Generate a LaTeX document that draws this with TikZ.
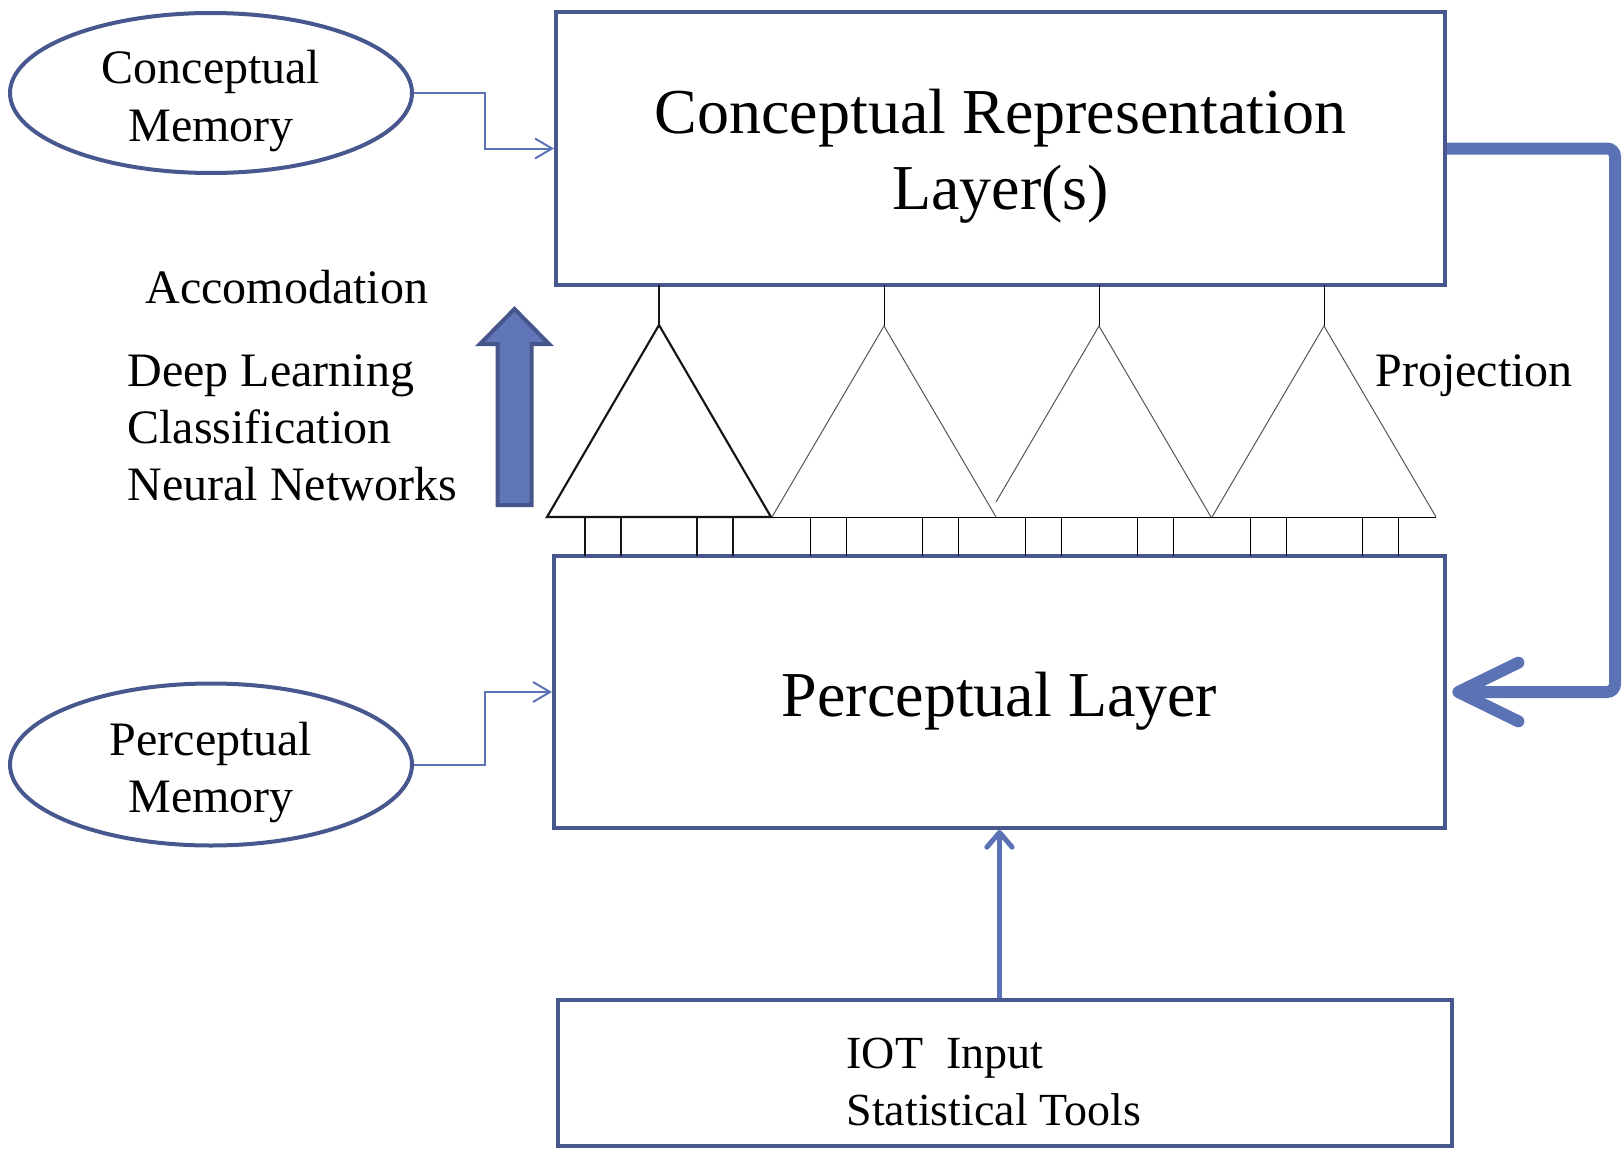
\documentclass[tikz,border=0pt]{standalone}
\usepackage{fontspec}
\setmainfont{Liberation Serif}
\usetikzlibrary{arrows.meta,shapes.geometric}

\tikzset{every picture/.style={line width=0.75pt}}
\tikzset{
  layerbox/.style={draw={rgb, 255:red, 72; green, 88; blue, 143 }, line width=3pt, rectangle, inner sep=0pt},
  layertext/.style={inner sep=0pt, align=center, font=\fontsize{48}{57}\selectfont},
  memory/.style={draw={rgb, 255:red, 72; green, 88; blue, 143 }, line width=3pt, ellipse, inner sep=0pt},
  label/.style={inner sep=0pt, align=left, font=\fontsize{36}{43}\selectfont},
  link/.style={draw={rgb, 255:red, 91; green, 115; blue, 180 }, line width=1.5pt, -{Straight Barb[length=12.75pt,width=15pt]}},
  heavytree/.style={draw={rgb, 255:red, 20; green, 20; blue, 20 }, line width=1.6pt},
  lighttree/.style={draw={rgb, 255:red, 85; green, 85; blue, 85 }, line width=0.75pt},
  tick/.style={draw={rgb, 255:red, 0; green, 0; blue, 0 }, line width=0.75pt}
}

\begin{document}
\begin{tikzpicture}[x=0.75pt,y=0.75pt,yscale=-1,xscale=1]
\useasboundingbox (0,0) rectangle (1623,1149);

%Shape: Rectangle [concept]
\node [layerbox, minimum width=666.75pt, minimum height=204.75pt] (concept) at (1000.5,148.5) {};
%Shape: Rectangle [percept]
\node [layerbox, minimum width=668.25pt, minimum height=204pt] (percept) at (999.5,692) {};
%Shape: Rectangle [iot]
\node [layerbox, minimum width=670.5pt, minimum height=109.5pt] (iot) at (1005,1073) {};

%Shape: Ellipse [cmem]
\node [memory, minimum width=301.5pt, minimum height=120pt] (cmem) at (211,93) {};
%Shape: Ellipse [pmem]
\node [memory, minimum width=301.5pt, minimum height=121.5pt] (pmem) at (211,764.5) {};

%Straight Lines [memory to layers]
\draw [link] (cmem.east) -- ++(71,0) |- (concept.west) ;
\draw [link] (pmem.east) -- ++(71,0) |- (percept.west) ;

%Straight Lines [projection]
\draw [draw={rgb, 255:red, 91; green, 115; blue, 180 }, line width=9pt, rounded corners=6pt, shorten >=4pt, -{Straight Barb[length=45pt,width=44pt,round]}] (concept.east) -- ++(168,0) |- (percept.east) ;

%Straight Lines [iot input]
\draw [draw={rgb, 255:red, 91; green, 115; blue, 180 }, line width=3.75pt, -{Straight Barb[length=11pt,width=19pt,round]}] (iot.north -| percept.south) -- (percept.south) ;

%Shape: Up Arrow
\draw [draw={rgb, 255:red, 70; green, 86; blue, 140 }, fill={rgb, 255:red, 97; green, 118; blue, 183 }, line width=3pt, line join=miter] (497.5,505) -- (497.5,344) -- (480,344) -- (514.5,309) -- (549,344) -- (531.5,344) -- (531.5,505) -- cycle ;

%Shape: Triangle [first tree]
\draw [heavytree] (659,285) -- (659,325) ;
\draw [heavytree] (547,517) -- (659,325) -- (771,517) -- cycle ;
\foreach \t in {-74,-38,38,74} \draw [heavytree] (659+\t,517) -- (659+\t,556) ;

%Shape: Triangle [other trees]
\draw [tick] (771,517) -- (1436,517) ;
\foreach \c/\w/\h in {884/112/517,1099/103/502,1324/112/517} {
  \draw [tick] (\c,285) -- (\c,326) ;
  \draw [lighttree] (\c-\w,\h) -- (\c,326) -- (\c+112,517) ;
  \foreach \t in {-74,-38,38,74} \draw [tick] (\c+\t,517) -- (\c+\t,556) ;
}

% Text Node
\node [layertext] (concepttext) at ([yshift=6pt]concept.center) {Conceptual Representation\\Layer(s)};
% Text Node
\node [layertext] (percepttext) at ([yshift=7pt]percept.center) {Perceptual Layer};
% Text Node
\node [label, align=center] (cmemtext) at ([yshift=6pt]cmem.center) {Conceptual\\Memory};
% Text Node
\node [label, align=center] (pmemtext) at ([yshift=6pt]pmem.center) {Perceptual\\Memory};
% Text Node
\node [label, anchor=west] (accom) at (145,287) {Accomodation};
% Text Node
\node [label, anchor=west] (methods) at (127,428) {Deep Learning\\Classification\\Neural Networks};
% Text Node
\node [label, anchor=west] (proj) at (1375,376) {Projection};
% Text Node
\node [label, anchor=west, font=\fontsize{34.5}{43}\selectfont] (iottext) at (846,1082) {IOT\ \ Input\\Statistical Tools};

\end{tikzpicture}
\end{document}
